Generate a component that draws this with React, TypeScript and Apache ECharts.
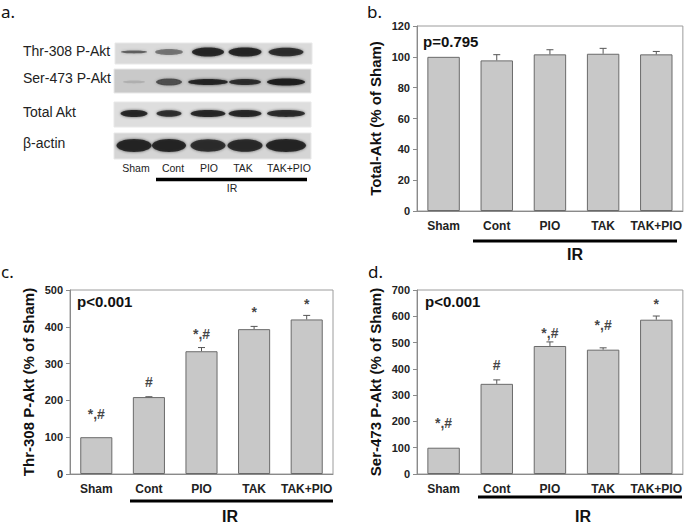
import React, { useEffect, useRef } from 'react';
import * as echarts from 'echarts';

// ---------- data ----------
const categories = ['Sham', 'Cont', 'PIO', 'TAK', 'TAK+PIO'];

const totalAkt = [100, 97.7, 101.6, 102, 101.6];
const totalAktErr = [0, 3.7, 3.0, 3.5, 1.9];

const thr308 = [100, 209, 333.6, 393.6, 420];
const thr308Err = [0, 1, 10, 7.5, 11];
const thr308Marks = ['*,#', '#', '*,#', '*', '*'];
const thr308MarkAt = [164, 250, 380, 440, 462];

const ser473 = [100, 343, 487, 473, 587];
const ser473Err = [0, 15, 15.5, 7, 14];
const ser473Marks = ['*,#', '#', '*,#', '*,#', '*'];
const ser473MarkAt = [194, 415, 536, 565, 648];

const pValues = ['p=0.795', 'p<0.001', 'p<0.001'];
const yTitles = ['Total-Akt (% of Sham)', 'Thr-308 P-Akt (% of Sham)', 'Ser-473 P-Akt (% of Sham)'];
const yMax = [120, 500, 700];
const yStep = [20, 100, 100];

const blotRows = ['Thr-308 P-Akt', 'Ser-473 P-Akt', 'Total Akt', 'β-actin'];
// relative band darkness per lane
const blotIntensity = [
  [0.55, 0.45, 0.85, 0.85, 0.8],
  [0.12, 0.6, 0.85, 0.8, 0.9],
  [0.85, 0.8, 0.85, 0.85, 0.82],
  [0.85, 0.85, 0.8, 0.82, 0.85],
];

// ---------- layout ----------
const FONT = '"Liberation Sans", Arial, sans-serif';
const grids = [
  { left: 417, top: 26, width: 266, height: 185 },
  { left: 70, top: 290, width: 263, height: 184 },
  { left: 417, top: 290, width: 266, height: 184 },
];
const pPos = [[423, 41], [77, 301], [425, 301]];
const irLine = [[473, 677, 241], [130, 333, 501], [478, 682, 497]];
const irText = [[575, 254], [230, 516], [583, 516]];
const panelLetters: [string, number, number][] = [['a.', 1, 11], ['b.', 367, 11], ['c.', 1, 271], ['d.', 368, 271]];

const strips = [
  { x: 115, y: 43, w: 197, h: 21, fill: '#dadada', cy: 52, ry: [1.4, 3, 4.5, 4.5, 4.3], hw: [13, 14, 16, 16.5, 17.5] },
  { x: 114, y: 69, w: 197, h: 24, fill: '#c9c9c9', cy: 82, ry: [1.4, 3.5, 3, 3, 3.5], hw: [11, 13, 20, 16, 19] },
  { x: 114, y: 102, w: 197, h: 25, fill: '#dedede', cy: 113.5, ry: [3.5, 3.2, 3.6, 3.6, 3.4], hw: [13.5, 12.5, 17.5, 16.5, 19] },
  { x: 114, y: 133, w: 197, h: 26, fill: '#d5d5d5', cy: 145.5, ry: [6.5, 6.5, 6.2, 6.3, 6.5], hw: [17.5, 17, 17.5, 17.5, 20] },
];
const laneCenters = [134, 169, 208, 245, 286];
const laneLabelX = [136, 173, 209, 243, 289];

function errorSeries(idx: number, vals: number[], errs: number[]) {
  return {
    type: 'custom',
    xAxisIndex: idx,
    yAxisIndex: idx,
    z: 4,
    silent: true,
    data: vals.map((v, i) => [i, v, v + errs[i]]),
    renderItem: (params: any, api: any) => {
      const i = api.value(0);
      const lo = api.value(1);
      const hi = api.value(2);
      if (hi <= lo) return null;
      const p0 = api.coord([i, lo]);
      const p1 = api.coord([i, hi]);
      const hw = 3.5;
      return {
        type: 'group',
        children: [
          { type: 'line', shape: { x1: p0[0], y1: p0[1], x2: p1[0], y2: p1[1] }, style: { stroke: '#555', lineWidth: 1 } },
          { type: 'line', shape: { x1: p1[0] - hw, y1: p1[1], x2: p1[0] + hw, y2: p1[1] }, style: { stroke: '#555', lineWidth: 1 } },
        ],
      };
    },
  };
}

function markSeries(idx: number, at: number[], marks: string[]) {
  return {
    type: 'scatter',
    xAxisIndex: idx,
    yAxisIndex: idx,
    symbolSize: 0,
    silent: true,
    z: 5,
    data: at.map((v, i) => [i, v]),
    label: {
      show: true,
      position: 'inside',
      formatter: (p: any) => marks[p.dataIndex],
      fontSize: 14,
      fontWeight: 'bold',
      fontFamily: FONT,
      color: '#111',
    },
  };
}

export default function App() {
  const ref = useRef<HTMLDivElement>(null);

  useEffect(() => {
    if (!ref.current) return;
    const chart = echarts.init(ref.current, undefined, { renderer: 'svg' });

    const seriesVals = [totalAkt, thr308, ser473];
    const seriesErrs = [totalAktErr, thr308Err, ser473Err];

    const graphic: any[] = [];

    panelLetters.forEach(([t, x, y]) => {
      graphic.push({ type: 'text', x, y, style: { text: t, fontSize: 17, fontFamily: '"Noto Sans", "Open Sans", sans-serif', fill: '#111', verticalAlign: 'middle', align: 'left' } });
    });

    pValues.forEach((t, i) => {
      graphic.push({ type: 'text', x: pPos[i][0], y: pPos[i][1], style: { text: t, fontSize: 15, fontWeight: 'bold', fontFamily: FONT, fill: '#111', verticalAlign: 'middle', align: 'left' } });
      graphic.push({ type: 'line', shape: { x1: irLine[i][0], y1: irLine[i][2], x2: irLine[i][1], y2: irLine[i][2] }, style: { stroke: '#000', lineWidth: 3 } });
      graphic.push({ type: 'text', x: irText[i][0], y: irText[i][1], style: { text: 'IR', fontSize: 16, fontWeight: 'bold', fontFamily: FONT, fill: '#111', verticalAlign: 'middle', align: 'center' } });
    });

    // western blot (panel a)
    strips.forEach((s, r) => {
      graphic.push({ type: 'rect', shape: { x: s.x, y: s.y, width: s.w, height: s.h }, style: { fill: s.fill, stroke: '#e8e8e8', lineWidth: 1 } });
      graphic.push({ type: 'text', x: 23, y: s.y + s.h / 2 - 3, style: { text: blotRows[r], fontSize: 14, fontFamily: FONT, fill: '#222', verticalAlign: 'middle', align: 'left' } });
      blotIntensity[r].forEach((a, l) => {
        graphic.push({
          type: 'ellipse',
          shape: { cx: laneCenters[l], cy: s.cy, rx: s.hw[l], ry: s.ry[l] },
          style: { fill: `rgba(25,25,25,${a})`, shadowBlur: 3, shadowColor: `rgba(25,25,25,${a * 0.8})` },
        });
      });
    });
    categories.forEach((c, l) => {
      graphic.push({ type: 'text', x: laneLabelX[l], y: 168, style: { text: c, fontSize: 10.5, fontFamily: FONT, fill: '#222', verticalAlign: 'middle', align: 'center' } });
    });
    graphic.push({ type: 'line', shape: { x1: 156, y1: 179.5, x2: 307, y2: 179.5 }, style: { stroke: '#000', lineWidth: 3.5 } });
    graphic.push({ type: 'text', x: 232, y: 188, style: { text: 'IR', fontSize: 10.5, fontFamily: FONT, fill: '#222', verticalAlign: 'middle', align: 'center' } });

    const option: any = {
      animation: false,
      textStyle: { fontFamily: FONT },
      grid: grids.map((g) => ({ ...g, show: true, borderColor: '#9c9c9c', borderWidth: 1, backgroundColor: 'transparent' })),
      xAxis: grids.map((_, i) => ({
        type: 'category',
        gridIndex: i,
        data: categories,
        axisLine: { lineStyle: { color: '#8a8a8a', width: 1 } },
        axisTick: { alignWithLabel: true, length: 4, lineStyle: { color: '#8a8a8a' } },
        axisLabel: { fontSize: 12, fontWeight: 'bold', color: '#222', margin: 9, fontFamily: FONT, interval: 0 },
        splitLine: { show: false },
      })),
      yAxis: grids.map((_, i) => ({
        type: 'value',
        gridIndex: i,
        min: 0,
        max: yMax[i],
        interval: yStep[i],
        name: yTitles[i],
        nameLocation: 'middle',
        nameGap: 34,
        nameTextStyle: { fontSize: 15, fontWeight: 'bold', color: '#111', fontFamily: FONT },
        axisLine: { show: true, lineStyle: { color: '#8a8a8a', width: 1 } },
        axisTick: { show: true, length: 4, lineStyle: { color: '#8a8a8a' } },
        axisLabel: { fontSize: 11, fontWeight: 'bold', color: '#222', margin: 7, fontFamily: FONT },
        splitLine: { show: false },
      })),
      series: [
        ...seriesVals.map((vals, i) => ({
          type: 'bar',
          xAxisIndex: i,
          yAxisIndex: i,
          data: vals,
          barWidth: '61%',
          silent: true,
          itemStyle: { color: '#c8c8c8', borderColor: '#6a6a6a', borderWidth: 1 },
        })),
        ...seriesVals.map((vals, i) => errorSeries(i, vals, seriesErrs[i])),
        markSeries(1, thr308MarkAt, thr308Marks),
        markSeries(2, ser473MarkAt, ser473Marks),
      ],
      graphic,
    };

    chart.setOption(option);
    return () => chart.dispose();
  }, []);

  return (
    <div
      ref={ref}
      style={{ position: 'absolute', left: 0, top: 0, width: 685, height: 526, background: '#fff' }}
    />
  );
}
